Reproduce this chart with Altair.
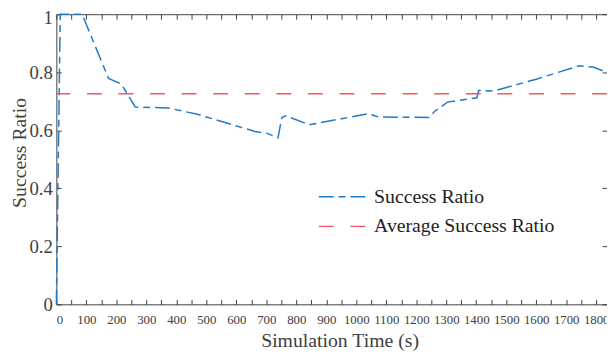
import altair as alt
import pandas as pd

# ---- data ----
time_s = [0, 13, 86, 141, 174, 217, 263, 372, 470, 662, 700, 739, 752, 766, 843,
          1040, 1073, 1243, 1260, 1304, 1402, 1408, 1457, 1600, 1742, 1790, 1836]
success = [0.0, 1.0, 1.0, 0.861, 0.779, 0.759, 0.680, 0.677, 0.655, 0.596, 0.590, 0.574, 0.645, 0.650, 0.619,
           0.657, 0.646, 0.644, 0.664, 0.697, 0.712, 0.737, 0.735, 0.776, 0.822, 0.818, 0.799]
average_ratio = 0.726
series_names = ["Success Ratio", "Average Success Ratio"]
x_major = list(range(0, 1801, 100))
x_minor = list(range(0, 1801, 50))
y_ticks = [0, 0.2, 0.4, 0.6, 0.8, 1]

df = pd.DataFrame({"t": time_s, "v": success, "series": series_names[0]})
df_avg = pd.DataFrame({"v": [average_ratio], "series": [series_names[1]]})

W, H = 558, 294
FONT = "Liberation Serif"
GRAY = "#404040"

xs = alt.Scale(domain=[0, 1836], nice=False, zero=False)
ys = alt.Scale(domain=[0, 1], nice=False)
color_scale = alt.Scale(domain=series_names, range=["#2379c2", "#f0595a"])
dash_scale = alt.Scale(domain=series_names, range=[[15, 5, 7, 5], [15, 17]])

# a 48px horizontal stroke whose nominal symbol size stays small, so rows stay tight
legend = alt.Legend(
    title=None, orient="none", legendX=280, legendY=175,
    symbolType="M-4,0H4", symbolSize=144, symbolStrokeWidth=1.5,
    labelFont=FONT, labelFontSize=20, labelColor="#222222", labelOffset=22,
    labelLimit=400, rowPadding=10,
)

color_enc = alt.Color("series:N", scale=color_scale, legend=legend, sort=series_names)
dash_enc = alt.StrokeDash("series:N", scale=dash_scale, legend=legend, sort=series_names)

line = alt.Chart(df).mark_line(strokeWidth=1.5).encode(
    x=alt.X("t:Q", scale=xs, axis=alt.Axis(
        orient="bottom", values=x_major, ticks=False, grid=False, labelPadding=9,
        labelFont=FONT, labelFontSize=13, labelColor=GRAY, domainColor=GRAY,
        format="d", labelOverlap=False,
        title="Simulation Time (s)", titleFont=FONT, titleFontSize=20,
        titleFontWeight="normal", titleColor=GRAY, titlePadding=5, titleX=287)),
    y=alt.Y("v:Q", scale=ys, axis=alt.Axis(
        orient="left", values=y_ticks, ticks=False, grid=False, labelPadding=4,
        labelFont=FONT, labelFontSize=19, labelColor=GRAY, domainColor=GRAY,
        labelOffset={"condition": {"test": "datum.value === 1", "value": 3}, "value": 0},
        format="~g", title="Success Ratio", titleFont=FONT, titleFontSize=20,
        titleFontWeight="normal", titleColor=GRAY, titlePadding=0, titleY=140)),
    color=color_enc,
    strokeDash=dash_enc,
)

avg = alt.Chart(df_avg).mark_rule(strokeWidth=1.5).encode(
    y=alt.Y("v:Q", scale=ys, axis=None),
    color=color_enc,
    strokeDash=dash_enc,
)

# inward ticks at bottom and left
ticks_bl = alt.Chart(df).mark_point(opacity=0).encode(
    x=alt.X("t:Q", scale=xs, axis=alt.Axis(
        orient="top", offset=-H, values=x_minor, labels=False, domain=False,
        ticks=True, tickSize=5, tickColor=GRAY, grid=False, title=None)),
    y=alt.Y("v:Q", scale=ys, axis=alt.Axis(
        orient="right", offset=-W, values=y_ticks, labels=False, domain=False,
        ticks=True, tickSize=5, tickColor=GRAY, grid=False, title=None)),
)

# top frame with inward ticks and right inward ticks
ticks_tr = alt.Chart(df).mark_point(opacity=0).encode(
    x=alt.X("t:Q", scale=xs, axis=alt.Axis(
        orient="bottom", offset=-H, values=x_minor, labels=False, domain=True,
        domainColor=GRAY, ticks=True, tickSize=5, tickColor=GRAY, grid=False, title=None)),
    y=alt.Y("v:Q", scale=ys, axis=alt.Axis(
        orient="left", offset=-W, values=y_ticks, labels=False, domain=False,
        ticks=True, tickSize=5, tickColor=GRAY, grid=False, title=None)),
)

chart = alt.layer(line, avg, ticks_bl, ticks_tr).resolve_axis(
    x="independent", y="independent"
).properties(
    width=W, height=H,
    autosize=alt.AutoSizeParams(type="none"),
    padding={"left": 49, "top": 4, "right": 0, "bottom": 46},
).configure_view(stroke=None)

chart.save("out.html", embed_options={"renderer": "svg", "actions": False})
